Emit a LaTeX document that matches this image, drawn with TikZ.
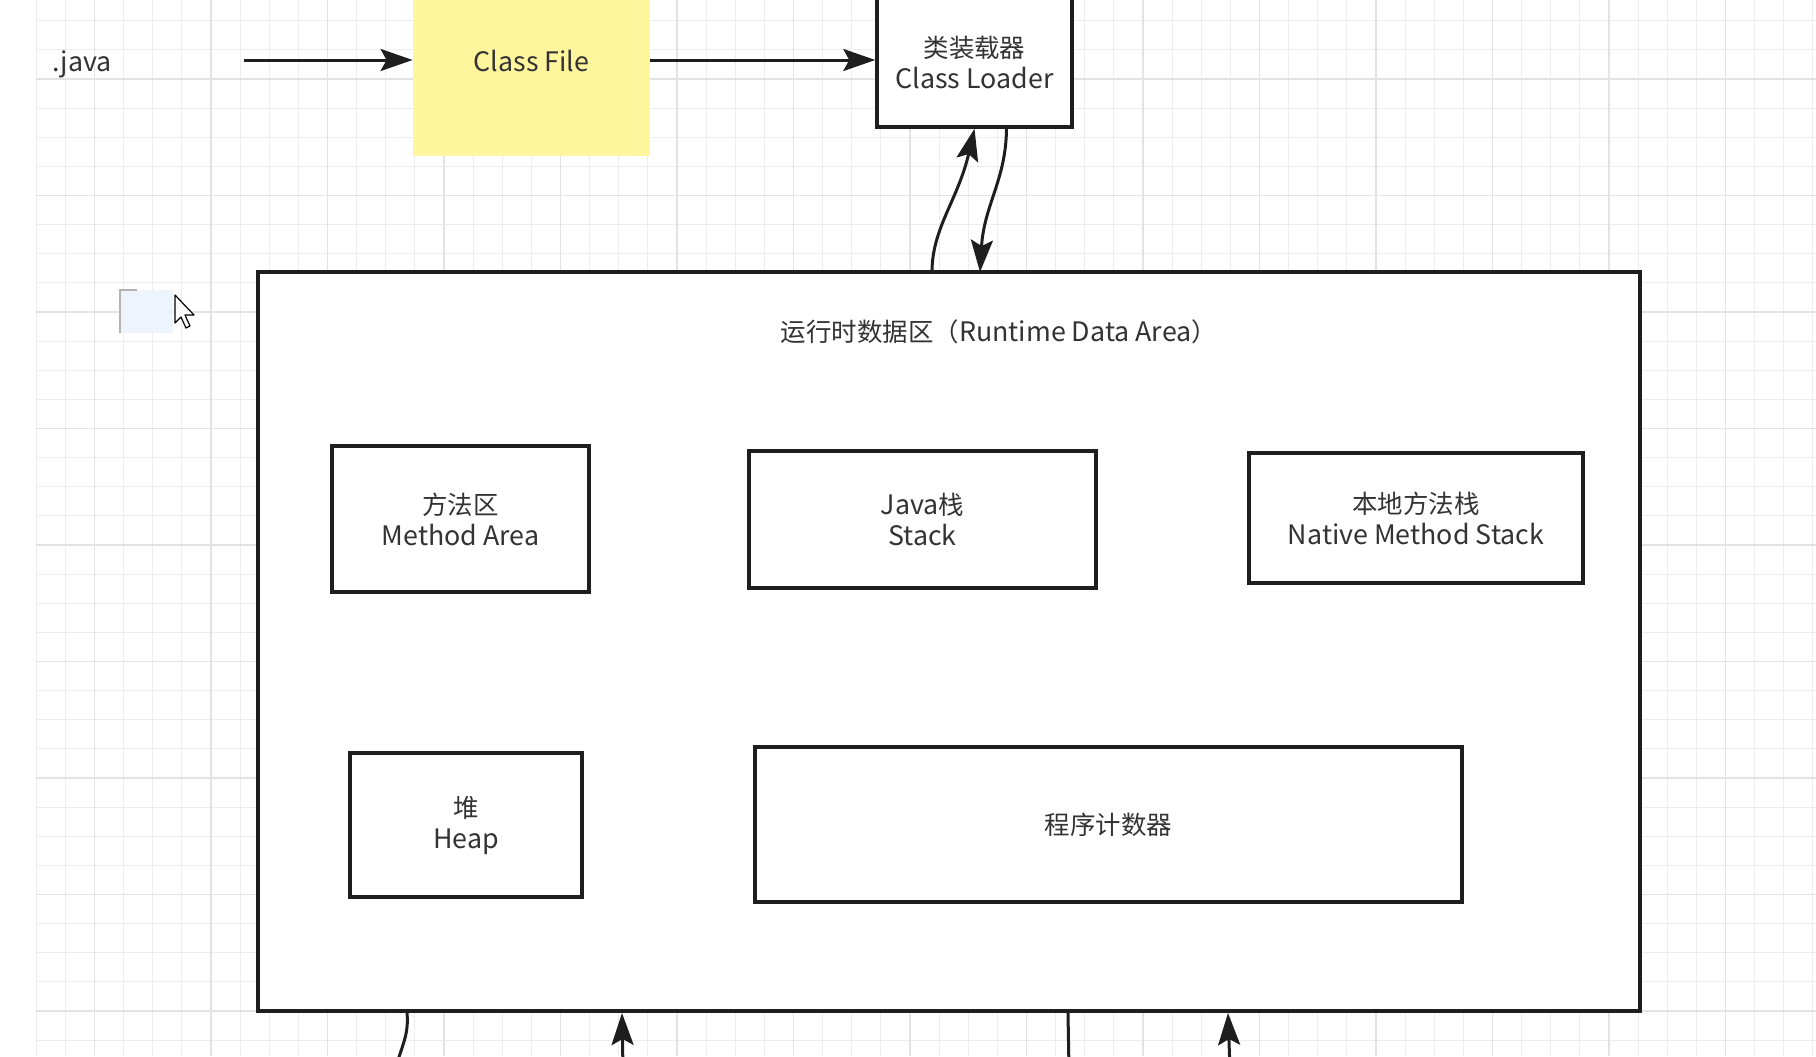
\documentclass[tikz,border=0pt]{standalone}
\usepackage{fontspec}
\setmainfont{Noto Sans CJK SC}
\newfontfamily\cjkf[Scale=0.95]{Noto Sans CJK SC}
\usetikzlibrary{arrows.meta}
\definecolor{gridminor}{HTML}{EDEDED}
\definecolor{gridmajor}{HTML}{E3E3E3}
\definecolor{txt}{HTML}{333333}
\definecolor{cfyellow}{HTML}{FFF59D}
\definecolor{edge}{HTML}{1E1E1E}
\definecolor{selblue}{HTML}{EEF4FB}
\begin{document}
\begin{tikzpicture}[x=0.5pt,y=-0.5pt,
  lbl/.style={text=txt, font=\fontsize{13.4}{15.5}\selectfont, align=center, inner sep=0pt},
  box/.style={draw=edge, line width=1.7pt, fill=white, lbl},
  conn/.style={draw=edge, line width=1.5pt},
  arr/.style={conn, -{Stealth[length=16pt,width=11pt,inset=3pt]}},
  gmin/.style={draw=gridminor, line width=0.55pt},
  gmaj/.style={draw=gridmajor, line width=0.7pt},
]
\useasboundingbox (0,0) rectangle (1816,1056);
\clip (0,0) rectangle (1816,1056);
\fill[white] (0,0) rectangle (1816,1056);
% grid
\foreach \i in {0,...,61} \draw[gmin] ({36.3+29.125*\i},0) -- ({36.3+29.125*\i},1056);
\foreach \j in {0,...,35} \draw[gmin] (36.3,{20.75+29.125*\j}) -- (1816,{20.75+29.125*\j});
\foreach \i in {0,...,15} \draw[gmaj] ({94.5+116.5*\i},0) -- ({94.5+116.5*\i},1056);
\foreach \j in {0,...,8} \draw[gmaj] (36.3,{79+116.5*\j}) -- (1816,{79+116.5*\j});

% selection artefact and cursor
\fill[selblue] (120,290) rectangle (173,333);
\draw[gray!60, line width=0.6pt] (120,333) -- (120,290) -- (137,290);
\draw[black, line width=0.6pt, fill=white, line join=round]
  (175,295) -- (175,323) -- (181,317) -- (186,328) -- (190,326) -- (185,315) -- (194,315) -- cycle;

% top row
\node[lbl] (java) at (82,64) {.java};
\node[lbl, fill=cfyellow, minimum width=118.5pt, minimum height=95pt] (cf) at (531.5,61) {Class File};
\node[box, minimum width=97.5pt, minimum height=65pt] (cl) at (974.5,62) {{\cjkf 类装载器}\\Class Loader};

\draw[arr] ([xshift=66pt]java.east |- 0,60) -- (cf.west |- 0,60);
\draw[arr] (cf.east |- 0,60) -- (cl.west |- 0,60);

% runtime data area
\node[box, line width=2pt, minimum width=691pt, minimum height=369.5pt] (rt) at (949,641.5) {};
\node[lbl] (title) at (999,332) {{\cjkf 运行时数据区（}Runtime Data Area{\cjkf ）}};

\node[box, minimum width=128.5pt, minimum height=73pt] (ma) at (460.5,519) {{\cjkf 方法区}\\Method Area};
\node[box, minimum width=173.5pt, minimum height=68.5pt] (js) at (922.5,519.5) {Java{\cjkf 栈}\\Stack};
\node[box, minimum width=167pt, minimum height=65pt] (ns) at (1416,518) {{\cjkf 本地方法栈}\\Native Method Stack};
\node[box, minimum width=116pt, minimum height=72pt] (hp) at (466,825) {{\cjkf 堆}\\Heap};
\node[box, minimum width=353.5pt, minimum height=77.5pt] (pc) at (1108.5,824.5) {{\cjkf 程序计数器}};

% class loader <-> runtime
\coordinate (rtu) at (932,272);
\coordinate (rtd) at (980,272);
\draw[arr] (rtu) .. controls (932,228) and (958,200) .. (cl.south);
\draw[arr] ([xshift=16pt]cl.south) .. controls (1006,180) and (984,205) .. (rtd);

% bottom connectors
\coordinate (b1) at (395,1070);
\coordinate (b2) at (623,1070);
\coordinate (b3) at (1069,1070);
\coordinate (b4) at (1230,1070);
\draw[conn] ([xshift=75.5pt]rt.south west) .. controls (409,1035) and (402,1045) .. (b1);
\draw[arr] (b2) -- ([xshift=183pt]rt.south west);
\draw[conn] ([xshift=406pt]rt.south west) -- (b3);
\draw[arr] (b4) -- ([xshift=486pt]rt.south west);
\end{tikzpicture}
\end{document}
